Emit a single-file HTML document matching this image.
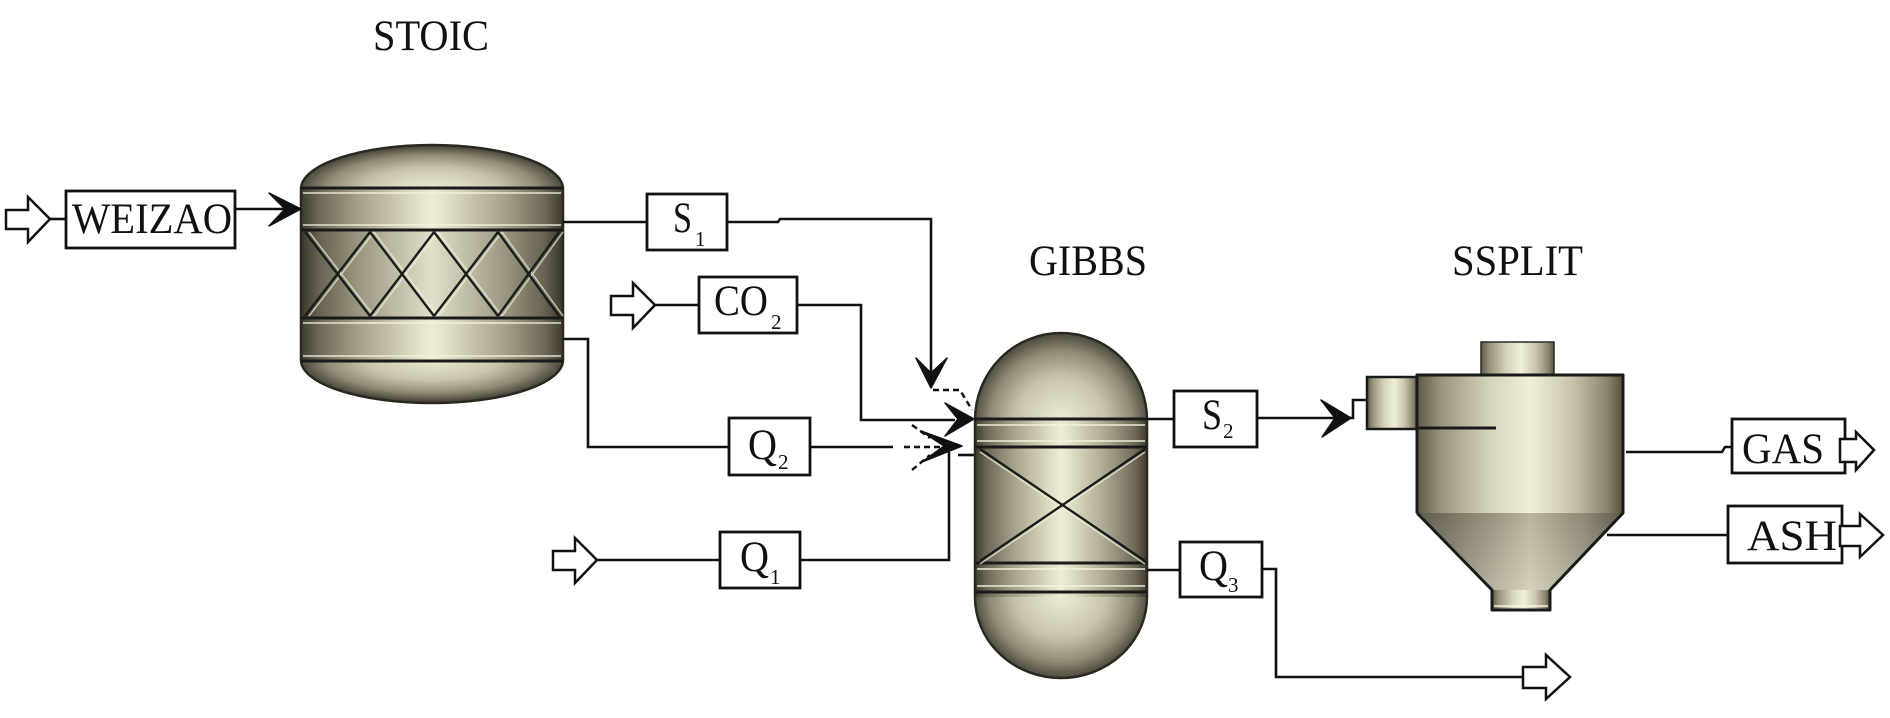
<!DOCTYPE html>
<html><head><meta charset="utf-8">
<style>
html,body{margin:0;padding:0;background:#fff;}
svg{display:block;}
text{font-family:"Liberation Serif","Times New Roman",serif;fill:#111;}
</style></head><body>
<svg width="1890" height="718" viewBox="0 0 1890 718" xmlns="http://www.w3.org/2000/svg">
<defs>
<linearGradient id="metal" x1="0" y1="0" x2="1" y2="0">
 <stop offset="0" stop-color="#3e3a2e"/>
 <stop offset="0.07" stop-color="#6e6957"/>
 <stop offset="0.22" stop-color="#a5a089"/>
 <stop offset="0.42" stop-color="#dcd9c1"/>
 <stop offset="0.5" stop-color="#efedd6"/>
 <stop offset="0.58" stop-color="#dcd9c1"/>
 <stop offset="0.78" stop-color="#a5a089"/>
 <stop offset="0.93" stop-color="#6e6957"/>
 <stop offset="1" stop-color="#3e3a2e"/>
</linearGradient>
<linearGradient id="cyl" x1="0" y1="0" x2="1" y2="0">
 <stop offset="0" stop-color="#5f5a48"/>
 <stop offset="0.12" stop-color="#9a957e"/>
 <stop offset="0.35" stop-color="#d6d3bb"/>
 <stop offset="0.55" stop-color="#f1efda"/>
 <stop offset="0.75" stop-color="#c9c5ad"/>
 <stop offset="0.92" stop-color="#8b8671"/>
 <stop offset="1" stop-color="#57523f"/>
</linearGradient>
<linearGradient id="cone" x1="0" y1="0" x2="1" y2="0">
 <stop offset="0" stop-color="#6a6552"/>
 <stop offset="0.3" stop-color="#a29d88"/>
 <stop offset="0.55" stop-color="#cfcbb4"/>
 <stop offset="0.8" stop-color="#a29d88"/>
 <stop offset="1" stop-color="#6a6552"/>
</linearGradient>
<linearGradient id="coneV" x1="0" y1="0" x2="0" y2="1">
 <stop offset="0" stop-color="#000" stop-opacity="0.12"/>
 <stop offset="1" stop-color="#fff" stop-opacity="0.12"/>
</linearGradient>
<radialGradient id="dST" gradientUnits="userSpaceOnUse" cx="432" cy="190" r="133" gradientTransform="matrix(1 0 0 0.33 0 127.3)">
 <stop offset="0" stop-color="#eeecd6"/>
 <stop offset="0.5" stop-color="#c9c5ad"/>
 <stop offset="0.8" stop-color="#8f8a74"/>
 <stop offset="1" stop-color="#4a463a"/>
</radialGradient>
<radialGradient id="dSB" gradientUnits="userSpaceOnUse" cx="432" cy="359" r="133" gradientTransform="matrix(1 0 0 0.32 0 244.1)">
 <stop offset="0" stop-color="#eeecd6"/>
 <stop offset="0.5" stop-color="#c9c5ad"/>
 <stop offset="0.8" stop-color="#8f8a74"/>
 <stop offset="1" stop-color="#4a463a"/>
</radialGradient>
<radialGradient id="dGT" gradientUnits="userSpaceOnUse" cx="1061" cy="422" r="89">
 <stop offset="0" stop-color="#eeecd6"/>
 <stop offset="0.5" stop-color="#c9c5ad"/>
 <stop offset="0.8" stop-color="#8f8a74"/>
 <stop offset="1" stop-color="#4a463a"/>
</radialGradient>
<radialGradient id="dGB" gradientUnits="userSpaceOnUse" cx="1061" cy="595" r="89" gradientTransform="matrix(1 0 0 0.94 0 35.7)">
 <stop offset="0" stop-color="#eeecd6"/>
 <stop offset="0.5" stop-color="#c9c5ad"/>
 <stop offset="0.8" stop-color="#8f8a74"/>
 <stop offset="1" stop-color="#4a463a"/>
</radialGradient>
</defs>

<!-- ============ STOIC vessel ============ -->
<path d="M301,189 A131,44 0 0 1 563,189 Z" fill="url(#dST)"/>
<rect x="301" y="188" width="262" height="173" fill="url(#metal)"/>
<rect x="301" y="231" width="262" height="86" fill="#000" opacity="0.06"/>
<path d="M563,360 A131,43 0 0 1 301,360 Z" fill="url(#dSB)"/>
<path d="M301,189 A131,44 0 0 1 563,189 L563,360 A131,43 0 0 1 301,360 Z" fill="none" stroke="#2b2820" stroke-width="2.5"/>
<g stroke="#f6f4e2" stroke-width="2" opacity="0.65">
 <line x1="303" y1="193" x2="561" y2="193"/>
 <line x1="303" y1="225" x2="561" y2="225"/>
 <line x1="303" y1="323" x2="561" y2="323"/>
 <line x1="303" y1="356" x2="561" y2="356"/>
</g>
<g stroke="#1a1a1a" stroke-width="3">
 <line x1="301" y1="188" x2="563" y2="188"/>
 <line x1="301" y1="230" x2="563" y2="230"/>
 <line x1="301" y1="318" x2="563" y2="318"/>
 <line x1="301" y1="361" x2="563" y2="361"/>
</g>
<g stroke="#f3f0dc" stroke-width="1.5" opacity="0.7">
 <path d="M307,232 L372,316 M372,232 L307,316 M372,232 L436,316 M436,232 L372,316 M436,232 L500,316 M500,232 L436,316 M500,232 L561,316 M561,232 L500,316" transform="translate(2,0)"/>
</g>
<g stroke="#1a1a1a" stroke-width="2.3">
 <path d="M305,232 L370,316 M370,232 L305,316 M370,232 L434,316 M434,232 L370,316 M434,232 L498,316 M498,232 L434,316 M498,232 L559,316 M559,232 L498,316"/>
</g>

<!-- ============ GIBBS vessel ============ -->
<path d="M975,420 A86,87 0 0 1 1147,420 Z" fill="url(#dGT)"/>
<rect x="975" y="419" width="172" height="179" fill="url(#metal)"/>
<path d="M1147,597 A86,81 0 0 1 975,597 Z" fill="url(#dGB)"/>
<path d="M975,420 A86,87 0 0 1 1147,420 L1147,597 A86,81 0 0 1 975,597 Z" fill="none" stroke="#2b2820" stroke-width="2.5"/>
<g stroke="#f6f4e2" stroke-width="2" opacity="0.7">
 <line x1="977" y1="425" x2="1145" y2="425"/>
 <line x1="977" y1="441" x2="1145" y2="441"/>
 <line x1="977" y1="569" x2="1145" y2="569"/>
 <line x1="977" y1="586" x2="1145" y2="586"/>
</g>
<g stroke="#1a1a1a" stroke-width="3">
 <line x1="975" y1="419" x2="1147" y2="419"/>
 <line x1="975" y1="447" x2="1147" y2="447"/>
 <line x1="975" y1="563" x2="1147" y2="563"/>
 <line x1="975" y1="592" x2="1147" y2="592"/>
</g>
<path d="M980,449 L1145,561 M1145,449 L980,561" stroke="#f3f0dc" stroke-width="1.5" opacity="0.7" transform="translate(0,3)"/>
<path d="M980,449 L1145,561 M1145,449 L980,561" stroke="#1a1a1a" stroke-width="2.3"/>

<!-- ============ SSPLIT cyclone ============ -->
<rect x="1481" y="342" width="73" height="33" fill="url(#cyl)" stroke="#2b2820" stroke-width="1.5"/>
<rect x="1367" y="377" width="50" height="52" fill="url(#cyl)" stroke="#1a1a1a" stroke-width="2.5"/>
<rect x="1417" y="375" width="206" height="138" fill="url(#cyl)"/>
<polygon points="1417,513 1623,513 1550,590 1492,590" fill="url(#cone)"/>
<polygon points="1417,513 1623,513 1550,590 1492,590" fill="url(#coneV)"/>
<rect x="1492" y="590" width="58" height="20" fill="url(#cyl)"/>
<line x1="1494" y1="606" x2="1548" y2="606" stroke="#f8f6e6" stroke-width="2" opacity="0.7"/>
<path d="M1417,513 L1417,375 L1623,375 L1623,513 L1550,590 L1550,610 L1492,610 L1492,590 L1417,513" fill="none" stroke="#1a1a1a" stroke-width="3" stroke-linejoin="round"/>
<line x1="1417" y1="428" x2="1496" y2="428" stroke="#1a1a1a" stroke-width="3"/>

<!-- ============ connectors ============ -->
<g fill="none" stroke="#111" stroke-width="2.6">
 <line x1="50" y1="219" x2="66" y2="219"/>
 <line x1="235" y1="209" x2="290" y2="209"/>
 <line x1="563" y1="222" x2="647" y2="222"/>
 <polyline points="727,222 778,222 780,219 931,219 931,375"/>
 <line x1="655" y1="305" x2="699" y2="305"/>
 <polyline points="797,305 861,305 861,420 955,420"/>
 <polyline points="563,339 588,339 588,447 729,447"/>
 <line x1="810" y1="447" x2="893" y2="447"/>
 <line x1="597" y1="560" x2="720" y2="560"/>
 <polyline points="800,560 949,560 949,452"/>
 <line x1="958" y1="455" x2="974" y2="455"/>
 <line x1="1147" y1="419" x2="1174" y2="419"/>
 <line x1="1256" y1="418" x2="1335" y2="418"/>
 <polyline points="1350,418 1353,418 1353,400 1367,400"/>
 <line x1="1147" y1="570" x2="1180" y2="570"/>
 <polyline points="1262,569 1276,569 1276,677 1523,677"/>
 <polyline points="1626,452 1722,452 1725,447 1732,447"/>
 <line x1="1607" y1="535" x2="1728" y2="535"/>
</g>
<g fill="none" stroke="#111" stroke-width="2.4" stroke-dasharray="6,4">
 <polyline points="933,390 960,390 972,410"/>
 <line x1="904" y1="447" x2="940" y2="447"/>
 <line x1="912" y1="470" x2="930" y2="455"/>
 <line x1="912" y1="425" x2="930" y2="438"/>
</g>

<!-- chevron arrowheads -->
<g fill="#111" stroke="#111" stroke-width="1.5" stroke-linejoin="round">
 <polygon points="301,209 269,193 285,209 269,226"/>
 <polygon points="931,388 916,358 931,373 947,358"/>
 <polygon points="974,419 945,403 958,419 945,436"/>
 <polygon points="962,446 921,431 944,446 922,462"/>
 <polygon points="1351,418 1321,400 1335,418 1322,437"/>
</g>

<!-- hollow feed arrows -->
<g fill="#fff" stroke="#111" stroke-width="2.5" stroke-linejoin="miter">
 <polygon points="6,210 28,210 28,197 50,219 28,242 28,229 6,229"/>
 <polygon points="611,296 633,296 633,283 655,305 633,328 633,315 611,315"/>
 <polygon points="553,551 575,551 575,538 597,560 575,583 575,570 553,570"/>
 <polygon points="1523,667 1546,667 1546,655 1570,677 1546,699 1546,688 1523,688"/>
</g>

<!-- label boxes -->
<g fill="#fff" stroke="#111" stroke-width="2.8">
 <rect x="66" y="191" width="169" height="57"/>
 <rect x="647" y="194" width="80" height="56"/>
 <rect x="699" y="277" width="98" height="56"/>
 <rect x="729" y="418" width="81" height="57"/>
 <rect x="720" y="532" width="80" height="56"/>
 <rect x="1174" y="391" width="83" height="56"/>
 <rect x="1180" y="542" width="82" height="55"/>
 <rect x="1732" y="419" width="113" height="54"/>
 <rect x="1728" y="506" width="114" height="57"/>
</g>
<g fill="#fff" stroke="#111" stroke-width="2.5">
 <polygon points="1840,439 1856,439 1856,432 1874,450 1856,470 1856,462 1840,462"/>
 <polygon points="1840,526 1860,526 1860,514 1883,535 1860,557 1860,546 1840,546"/>
</g>

<!-- text -->
<g font-size="43">
 <text x="373" y="50" textLength="116" lengthAdjust="spacingAndGlyphs">STOIC</text>
 <text x="1029" y="275" textLength="118" lengthAdjust="spacingAndGlyphs">GIBBS</text>
 <text x="1452" y="275" textLength="131" lengthAdjust="spacingAndGlyphs">SSPLIT</text>
 <text x="72" y="233" textLength="160" lengthAdjust="spacingAndGlyphs">WEIZAO</text>
 <text x="673" y="232" textLength="19" lengthAdjust="spacingAndGlyphs">S</text>
 <text x="714" y="315" textLength="54" lengthAdjust="spacingAndGlyphs">CO</text>
 <text x="748" y="459" textLength="29" lengthAdjust="spacingAndGlyphs">Q</text>
 <text x="740" y="571" textLength="29" lengthAdjust="spacingAndGlyphs">Q</text>
 <text x="1202" y="429" textLength="20" lengthAdjust="spacingAndGlyphs">S</text>
 <text x="1199" y="580" textLength="29" lengthAdjust="spacingAndGlyphs">Q</text>
 <text x="1742" y="463" textLength="82" lengthAdjust="spacingAndGlyphs">GAS</text>
 <text x="1747" y="550" textLength="90" lengthAdjust="spacingAndGlyphs">ASH</text>
</g>
<g font-size="21">
 <text x="695" y="246">1</text>
 <text x="771" y="329">2</text>
 <text x="778" y="469">2</text>
 <text x="770" y="584">1</text>
 <text x="1223" y="438">2</text>
 <text x="1228" y="592">3</text>
</g>
</svg>
</body></html>
